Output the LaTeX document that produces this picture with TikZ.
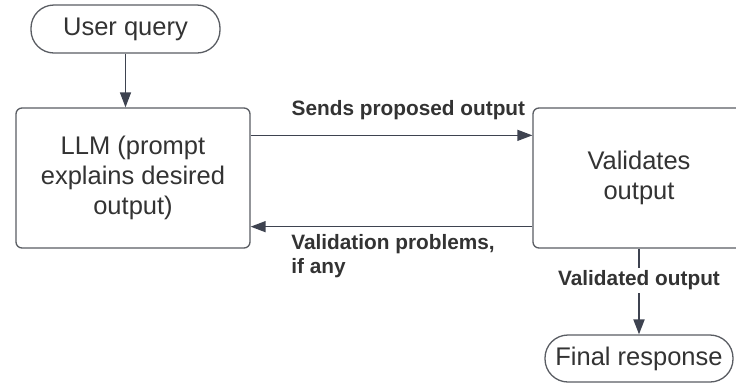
\documentclass[tikz,border=0pt]{standalone}
\usepackage{fontspec}
\setmainfont{Liberation Sans}
\usetikzlibrary{arrows.meta}
\definecolor{txt}{HTML}{333333}
\definecolor{ln}{HTML}{3E4350}
\definecolor{bd}{HTML}{5A5D63}
\begin{document}
\begin{tikzpicture}[x=1pt,y=-1pt,
  box/.style={draw=bd, line width=1.3pt, rounded corners=6pt, text=txt, align=center,
    font=\fontsize{25.5}{30}\selectfont, inner sep=0pt},
  term/.style={draw=bd, line width=1.3pt, rounded corners=23pt, text=txt, align=center,
    font=\fontsize{25.5}{30}\selectfont, inner sep=0pt},
  conn/.style={draw=ln, line width=1.4pt, -{Triangle[length=15pt,width=11pt]}},
  lab/.style={text=txt, font=\fontsize{20.8}{24}\selectfont\bfseries, inner sep=0pt, align=left}]
\useasboundingbox[fill=white] (0,0) rectangle (736,384);

\node[term, minimum width=189pt, minimum height=48pt] (uq) at (125.5,29) {User query};
\node[box, minimum width=234pt, minimum height=140pt] (llm) at (133,178) {LLM (prompt\\explains desired\\output)};
\node[box, minimum width=212pt, minimum height=140pt] (val) at (639,178) {Validates\\output};
\node[term, minimum width=188pt, minimum height=47pt] (fin) at (639,358.5) {Final response};

\draw[conn] (uq.south) -- (uq.south |- llm.north);
\draw[conn] ([yshift=-28pt]llm.north east) -- node[lab, pos=0.56, anchor=south, yshift=15pt] {Sends proposed output} ([yshift=-28pt]val.north west);
\draw[conn] ([yshift=22pt]val.south west) -- node[lab, at end, anchor=north west, xshift=40pt, yshift=-7pt] {Validation problems,\\if any} ([yshift=22pt]llm.south east);
\draw[conn, line width=2pt] (val.south) -- node[lab, pos=0.37, fill=white, inner sep=3pt] {Validated output} (fin.north);
\end{tikzpicture}
\end{document}
